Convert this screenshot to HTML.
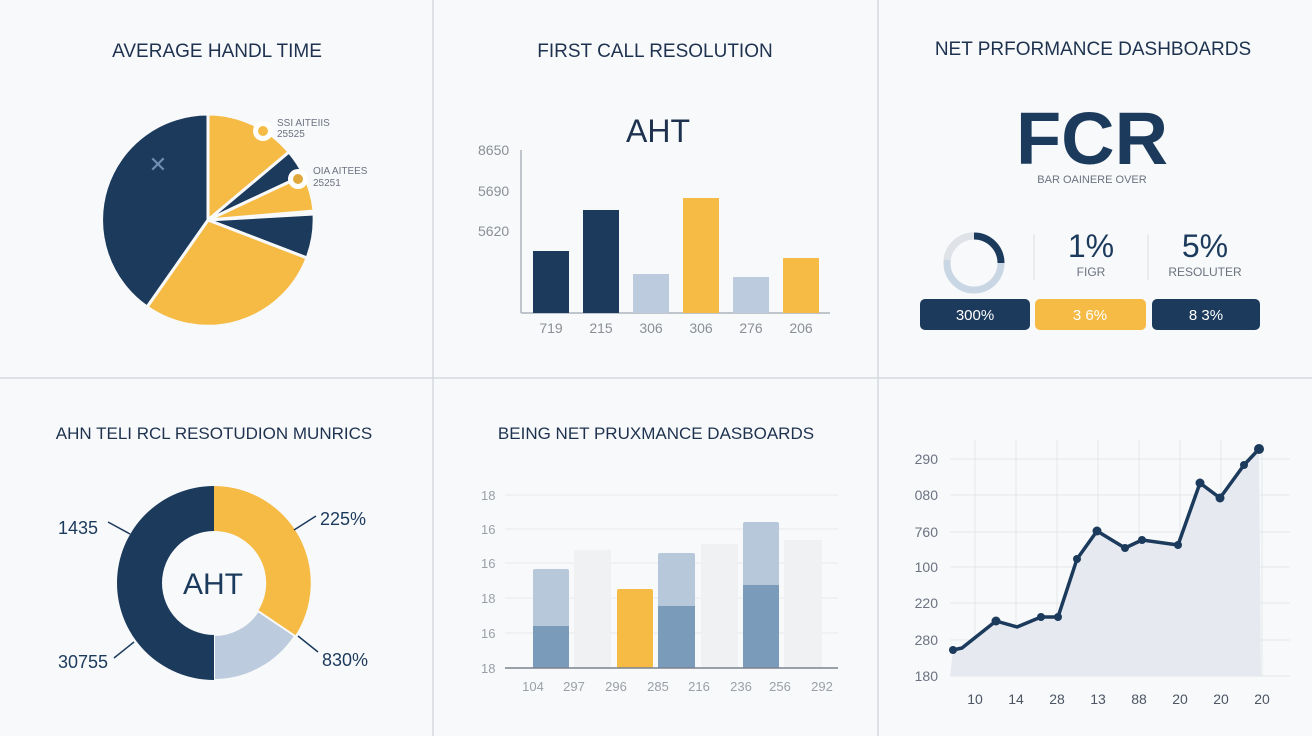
<!DOCTYPE html>
<html><head><meta charset="utf-8"><style>
html,body{margin:0;padding:0;background:#f8f9fa;}
svg{display:block;font-family:"Liberation Sans",sans-serif;}
</style></head><body>
<svg width="1312" height="736" viewBox="0 0 1312 736">
<rect width="1312" height="736" fill="#f8f9fa"/>
<g stroke="#d6dae0" stroke-width="1.5">
<line x1="433" y1="0" x2="433" y2="736"/><line x1="878" y1="0" x2="878" y2="736"/>
<line x1="0" y1="378" x2="1312" y2="378"/></g>
<g fill="#1e3250" font-size="19" text-anchor="middle">
<text x="217" y="57">AVERAGE HANDL TIME</text>
<text x="655" y="57">FIRST CALL RESOLUTION</text>
<text x="1093" y="55">NET PRFORMANCE DASHBOARDS</text>
<text x="214" y="439" font-size="17">AHN TELI RCL RESOTUDION MUNRICS</text>
<text x="656" y="439" font-size="17">BEING NET PRUXMANCE DASBOARDS</text>
</g>
<!-- pie -->
<g stroke="#f8f9fa" stroke-width="3">
<path d="M208,220 L208,114 A106,106 0 0 1 289,152 Z" fill="#f5bb45"/>
<path d="M208,220 L289,152 A106,106 0 0 1 304,175 Z" fill="#1b3a5c"/>
<path d="M208,220 L304,175 A106,106 0 0 1 314,211 Z" fill="#f5bb45"/>
<path d="M208,220 L314,214 A106,106 0 0 1 307,258 Z" fill="#1b3a5c"/>
<path d="M208,220 L307,258 A106,106 0 0 1 147,307 Z" fill="#f5bb45"/>
<path d="M208,220 L147,307 A106,106 0 0 1 208,114 Z" fill="#1b3a5c"/>
</g>
<text x="158" y="172" fill="#6f8fb3" font-size="22" text-anchor="middle">✕</text>
<circle cx="263" cy="131" r="10" fill="#fff"/><circle cx="263" cy="131" r="5" fill="#f5bb45"/>
<circle cx="298" cy="179" r="10" fill="#fff"/><circle cx="298" cy="179" r="5" fill="#e0a83a"/>
<g fill="#6b7280" font-size="10"><text x="277" y="126">SSI AITEIIS</text><text x="277" y="137">25525</text>
<text x="313" y="174">OIA AITEES</text><text x="313" y="186">25251</text></g>
<!-- top bar chart -->
<text x="658" y="142" fill="#1e3250" font-size="32" text-anchor="middle">AHT</text>
<g fill="#8a8f96" font-size="14"><text x="478" y="155">8650</text><text x="478" y="196">5690</text><text x="478" y="236">5620</text></g>
<line x1="521" y1="150" x2="521" y2="313" stroke="#aeb4bc" stroke-width="1.5"/>
<line x1="521" y1="313" x2="830" y2="313" stroke="#aeb4bc" stroke-width="1.5"/>
<rect x="533" y="251" width="36" height="62" fill="#1b3a5c"/>
<rect x="583" y="210" width="36" height="103" fill="#1b3a5c"/>
<rect x="633" y="274" width="36" height="39" fill="#bccbdd"/>
<rect x="683" y="198" width="36" height="115" fill="#f5bb45"/>
<rect x="733" y="277" width="36" height="36" fill="#bccbdd"/>
<rect x="783" y="258" width="36" height="55" fill="#f5bb45"/>
<g fill="#8a8f96" font-size="14" text-anchor="middle"><text x="551" y="333">719</text><text x="601" y="333">215</text><text x="651" y="333">306</text><text x="701" y="333">306</text><text x="751" y="333">276</text><text x="801" y="333">206</text></g>
<!-- FCR -->
<text x="1092" y="164" fill="#1b3a5c" font-size="74" font-weight="bold" text-anchor="middle">FCR</text>
<text x="1092" y="183" fill="#6b7280" font-size="11" text-anchor="middle">BAR OAINERE OVER</text>
<circle cx="974" cy="263" r="27" fill="none" stroke="#c9d6e4" stroke-width="7"/>
<path d="M974,236 A27,27 0 0 1 1001,263" fill="none" stroke="#1b3a5c" stroke-width="7"/>
<path d="M974,236 A27,27 0 0 0 947,260" fill="none" stroke="#dfe2e6" stroke-width="7"/>
<line x1="1034" y1="234" x2="1034" y2="280" stroke="#dcdfe3"/><line x1="1148" y1="234" x2="1148" y2="280" stroke="#dcdfe3"/>
<g fill="#1b3a5c" font-size="32" text-anchor="middle"><text x="1091" y="257">1%</text><text x="1205" y="257">5%</text></g>
<g fill="#6b7280" font-size="12" text-anchor="middle"><text x="1091" y="276">FIGR</text><text x="1205" y="276">RESOLUTER</text></g>
<rect x="920" y="299" width="110" height="31" rx="5" fill="#1b3a5c"/>
<rect x="1035" y="299" width="111" height="31" rx="5" fill="#f5bb45"/>
<rect x="1152" y="299" width="108" height="31" rx="5" fill="#1b3a5c"/>
<g fill="#fff" font-size="15" text-anchor="middle"><text x="975" y="320">300%</text><text x="1090" y="320">3 6%</text><text x="1206" y="320">8 3%</text></g>
<!-- donut -->
<path d="M214,486 A97,97 0 0 1 295,636 L258,611 A52,52 0 0 0 214,531 Z" fill="#f5bb45"/>
<path d="M295,636 A97,97 0 0 1 214,680 L214,635 A52,52 0 0 0 258,611 Z" fill="#bccbdd" stroke="#f8f9fa" stroke-width="2"/>
<path d="M214,680 A97,97 0 0 1 214,486 L214,531 A52,52 0 0 0 214,635 Z" fill="#1b3a5c"/>
<text x="213" y="594" fill="#1b3a5c" font-size="30" text-anchor="middle">AHT</text>
<g stroke="#1b3a5c" stroke-width="1.5"><line x1="108" y1="522" x2="130" y2="534"/><line x1="294" y1="530" x2="316" y2="516"/><line x1="114" y1="658" x2="134" y2="642"/><line x1="298" y1="636" x2="318" y2="652"/></g>
<g fill="#1b3a5c" font-size="18"><text x="58" y="534">1435</text><text x="320" y="525">225%</text><text x="58" y="668">30755</text><text x="322" y="666">830%</text></g>
<!-- bottom bar chart -->
<g stroke="#e6e9ed"><line x1="505" y1="495" x2="838" y2="495"/><line x1="505" y1="529" x2="838" y2="529"/><line x1="505" y1="563" x2="838" y2="563"/><line x1="505" y1="598" x2="838" y2="598"/><line x1="505" y1="633" x2="838" y2="633"/></g>
<g fill="#9aa0a8" font-size="13"><text x="481" y="500">18</text><text x="481" y="534">16</text><text x="481" y="568">16</text><text x="481" y="603">18</text><text x="481" y="638">16</text><text x="481" y="673">18</text></g>
<rect x="533" y="569" width="36" height="99" rx="2" fill="#b7c8db"/><rect x="533" y="626" width="36" height="42" fill="#7b9bbb"/>
<rect x="574" y="550" width="37" height="118" fill="#eff1f3"/>
<rect x="617" y="589" width="36" height="79" rx="2" fill="#f5bb45"/>
<rect x="658" y="553" width="37" height="115" rx="2" fill="#b7c8db"/><rect x="658" y="606" width="37" height="62" fill="#7b9bbb"/>
<rect x="701" y="544" width="37" height="124" fill="#eff1f3"/>
<rect x="743" y="522" width="36" height="146" rx="2" fill="#b7c8db"/><rect x="743" y="585" width="36" height="83" fill="#7b9bbb"/>
<rect x="784" y="540" width="38" height="128" fill="#eff1f3"/>
<line x1="505" y1="668" x2="838" y2="668" stroke="#7b8390" stroke-width="1.5"/>
<g fill="#9aa0a8" font-size="13" text-anchor="middle"><text x="533" y="691">104</text><text x="574" y="691">297</text><text x="616" y="691">296</text><text x="658" y="691">285</text><text x="699" y="691">216</text><text x="741" y="691">236</text><text x="780" y="691">256</text><text x="822" y="691">292</text></g>
<!-- line chart -->
<g stroke="#e3e6ea"><line x1="950" y1="459" x2="1290" y2="459"/><line x1="950" y1="495" x2="1290" y2="495"/><line x1="950" y1="532" x2="1290" y2="532"/><line x1="950" y1="567" x2="1290" y2="567"/><line x1="950" y1="603" x2="1290" y2="603"/><line x1="950" y1="640" x2="1290" y2="640"/><line x1="950" y1="676" x2="1290" y2="676"/>
<line x1="975" y1="440" x2="975" y2="676"/><line x1="1016" y1="440" x2="1016" y2="676"/><line x1="1057" y1="440" x2="1057" y2="676"/><line x1="1098" y1="440" x2="1098" y2="676"/><line x1="1139" y1="440" x2="1139" y2="676"/><line x1="1180" y1="440" x2="1180" y2="676"/><line x1="1221" y1="440" x2="1221" y2="676"/><line x1="1262" y1="440" x2="1262" y2="676"/></g>
<path d="M950,676 L953,650 962,648 996,621 1017,627 1041,617 1058,617 1077,559 1097,531 1125,548 1142,540 1178,545 1200,483 1220,498 1244,465 1259,449 L1261,676 Z" fill="#e6e9f0"/>
<polyline points="953,650 962,648 996,621 1017,627 1041,617 1058,617 1077,559 1097,531 1125,548 1142,540 1178,545 1200,483 1220,498 1244,465 1259,449" fill="none" stroke="#1b3a5c" stroke-width="3.5" stroke-linejoin="round"/>
<g fill="#1b3a5c"><circle cx="953" cy="650" r="4"/><circle cx="996" cy="621" r="4.5"/><circle cx="1041" cy="617" r="4"/><circle cx="1058" cy="617" r="4"/><circle cx="1077" cy="559" r="4"/><circle cx="1097" cy="531" r="4.5"/><circle cx="1125" cy="548" r="4"/><circle cx="1142" cy="540" r="4"/><circle cx="1178" cy="545" r="4"/><circle cx="1200" cy="483" r="4.5"/><circle cx="1220" cy="498" r="4.5"/><circle cx="1244" cy="465" r="4"/><circle cx="1259" cy="449" r="5"/></g>
<g fill="#6b7280" font-size="14" text-anchor="end"><text x="938" y="464">290</text><text x="938" y="500">080</text><text x="938" y="537">760</text><text x="938" y="572">100</text><text x="938" y="608">220</text><text x="938" y="645">280</text><text x="938" y="681">180</text></g>
<g fill="#4b5563" font-size="14" text-anchor="middle"><text x="975" y="704">10</text><text x="1016" y="704">14</text><text x="1057" y="704">28</text><text x="1098" y="704">13</text><text x="1139" y="704">88</text><text x="1180" y="704">20</text><text x="1221" y="704">20</text><text x="1262" y="704">20</text></g>
</svg>
</body></html>
